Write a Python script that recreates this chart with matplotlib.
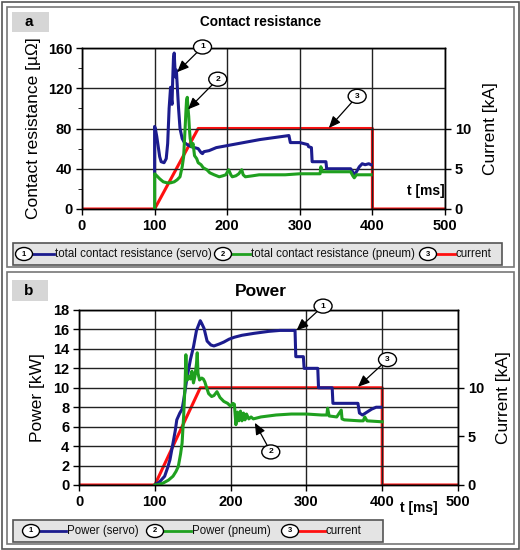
import numpy as np
import matplotlib
matplotlib.use("Agg")
import matplotlib.pyplot as plt
from matplotlib.patches import Rectangle, Ellipse
from matplotlib.lines import Line2D

plt.rcParams['font.family'] = ['Liberation Sans', 'DejaVu Sans']

BLUE = '#1c1c8e'
GREEN = '#1fa01f'
RED = '#ff1010'

# current (same in both panels)
t_cur = [0, 100, 160, 400, 400, 500]
i_cur = [0, 0, 10, 10, 0, 0]

# contact resistance, servo
t_rs = [100, 100, 101, 103, 105, 107, 109, 113, 116, 118, 120, 122, 123, 124, 125, 126, 127, 128,
        129, 130, 131, 133, 135, 138, 141, 145, 150, 155, 160, 164, 166, 168, 175, 185, 200, 215,
        230, 245, 265, 285, 287, 300, 311, 312, 316, 317, 336, 337, 370, 372, 375, 378, 382, 386,
        390, 395, 398]
r_rs = [35, 82, 80, 72, 62, 52, 47, 46, 50, 65, 100, 121, 110, 104, 130, 150, 155, 140, 131, 138,
        125, 100, 80, 70, 66, 64, 62, 61, 60, 56, 55, 57, 58, 61, 63, 65, 67, 69, 71, 73, 66, 66,
        64, 62, 61, 47, 47, 40, 40, 38, 34, 37, 42, 45, 44, 45, 44]

# contact resistance, pneumatic
t_rp = [100, 100, 103, 107, 112, 117, 122, 127, 131, 135, 138, 140, 142, 143, 144, 145, 146, 147,
        148, 149, 151, 153, 155, 158, 160, 164, 167, 172, 176, 182, 189, 194, 198, 202, 205, 207,
        212, 216, 220, 222, 225, 235, 244, 260, 280, 300, 320, 328, 329, 331, 340, 360, 370, 373,
        375, 378, 385, 398]
r_rp = [0, 35, 33, 30, 27, 26, 26, 27, 29, 32, 42, 52, 80, 95, 108, 111, 100, 92, 79, 70, 62, 65,
        53, 50, 46, 44, 41, 39, 36, 34, 32, 33, 34, 39, 34, 32, 33, 35, 39, 34, 32, 33, 34, 34, 34,
        35, 35, 35, 42, 37, 37, 37, 37, 33, 31, 34, 34, 34]

# power, servo
t_ps = [100, 106, 113, 117, 120, 124, 127, 129, 133, 136, 138, 142, 147, 151, 155, 158, 160, 162,
        165, 169, 174, 178, 185, 191, 198, 205, 215, 231, 250, 265, 285, 286, 296, 297, 315, 316,
        334, 335, 368, 370, 374, 380, 386, 392, 398]
p_ps = [0, 0.3, 0.9, 1.8, 2.6, 4.3, 5.6, 6.7, 7.4, 7.8, 8.7, 10.8, 12.9, 14.2, 15.9, 16.5, 16.9,
        16.6, 16.1, 14.8, 14.4, 14.3, 14.5, 14.7, 15.0, 15.2, 15.4, 15.6, 15.8, 15.9, 15.9, 13.2,
        13.2, 12.0, 12.0, 10.0, 10.0, 8.4, 8.4, 7.4, 7.2, 7.5, 7.8, 8.0, 8.0]

# power, pneumatic
t_pp = [100, 105, 111, 118, 124, 128, 131, 134, 136, 138, 140, 141, 142, 143, 145, 147, 149, 151,
        153, 155, 156, 157, 159, 162, 164, 166, 168, 171, 175, 178, 182, 186, 191, 196, 200, 203,
        205, 207, 209, 211, 213, 215, 217, 219, 221, 224, 227, 230, 240, 260, 280, 300, 320, 327,
        328, 330, 340, 346, 347, 350, 370, 375, 377, 380, 400]
p_pp = [0, 0.05, 0.2, 0.5, 0.9, 1.4, 1.9, 3.2, 4.3, 7.0, 10.5, 13.4, 10.8, 10.8, 11.2, 10.9, 11.7,
        10.5, 11.2, 12.5, 13.6, 11.5, 10.8, 11.0, 10.9, 10.6, 10.1, 9.4, 9.1, 9.2, 9.6, 9.0, 8.6,
        8.4, 8.1, 8.4, 8.3, 6.2, 7.5, 6.6, 7.6, 6.6, 7.4, 6.7, 7.3, 6.8, 7.0, 6.8, 7.0, 7.2, 7.3,
        7.3, 7.2, 7.2, 7.9, 7.1, 7.0, 7.7, 6.8, 6.7, 6.6, 6.6, 7.0, 6.6, 6.5]

W, H = 520, 550
fig = plt.figure(figsize=(W / 100, H / 100), dpi=100)


def fx(px):
    return px / W


def fy(py):
    return 1 - py / H


def box(x0, y0, x1, y1, **kw):
    fig.patches.append(Rectangle((fx(x0), fy(y1)), fx(x1) - fx(x0), fy(y0) - fy(y1),
                                 transform=fig.transFigure, **kw))


def numbered_circle(xf, yf, num, w=18, h=14, size=6):
    # xf, yf in figure fractions
    fig.add_artist(Ellipse((xf, yf), w / W, h / H, transform=fig.transFigure,
                           fc='white', ec='black', lw=1.0, zorder=10))
    fig.text(xf, yf, num, fontsize=size, fontweight='bold', ha='center', va='center', zorder=11)


# outer and panel borders
box(1.5, 1.5, 518.5, 548.5, fill=False, ec='#555555', lw=1.2)
box(7, 7, 514, 267, fill=False, ec='#777777', lw=1.2)
box(7, 272, 514, 544, fill=False, ec='#777777', lw=1.2)
# panel labels
box(12, 12, 49, 32, fc='#d6d6d6', ec='none')
box(12, 280, 48, 301, fc='#d6d6d6', ec='none')
fig.text(fx(29), fy(22), 'a', fontsize=11, fontweight='bold', ha='center', va='center')
fig.text(fx(29), fy(291), 'b', fontsize=11, fontweight='bold', ha='center', va='center')
# panel titles
fig.text(fx(261), fy(22), 'Contact resistance', fontsize=9.8, fontweight='bold',
         ha='center', va='center')
fig.text(fx(261), fy(292), 'Power', fontsize=12.5, fontweight='bold', ha='center', va='center')


def style_axes(ax, ax2):
    for a in (ax, ax2):
        for s in a.spines.values():
            s.set_color('black')
            s.set_linewidth(1.0)
        a.tick_params(labelsize=10.5, width=1, length=4, direction='out', pad=3)
        for lbl in a.get_xticklabels() + a.get_yticklabels():
            lbl.set_fontweight('bold')
    ax.grid(True, color='#222222', linewidth=1.0)
    ax.set_axisbelow(True)
    ax.set_xlim(0, 500)
    ax.set_xticks([0, 100, 200, 300, 400, 500])
    ax2.set_yticks([0, 5, 10])
    ax.set_zorder(ax2.get_zorder() + 1)
    ax.patch.set_visible(False)


def bubble(ax, num, xy, xytext):
    ax.annotate('', xy=xy, xytext=xytext, annotation_clip=False,
                arrowprops=dict(arrowstyle='-|>,head_length=0.7,head_width=0.3', color='black',
                                lw=0.9, shrinkA=4, shrinkB=0))
    px, py = ax.transData.transform(xytext)
    numbered_circle(px / W, py / H, num)


# ---- panel a ----
ax = fig.add_axes([fx(82), fy(209), fx(445) - fx(82), fy(48) - fy(209)])
ax2 = ax.twinx()
ax2.plot(t_cur, i_cur, color=RED, lw=2.2)
ax2.set_ylim(0, 20)
ax.plot(t_rs, r_rs, color=BLUE, lw=2.2)
ax.plot(t_rp, r_rp, color=GREEN, lw=2.2)
ax.set_ylim(0, 160)
ax.set_yticks([0, 40, 80, 120, 160])
ax.set_yticks(np.arange(0, 161, 20), minor=True)
ax.tick_params(axis='y', which='minor', length=3)
style_axes(ax, ax2)
ax.set_ylabel('Contact resistance [µΩ]', fontsize=12.5, labelpad=5)
ax2.set_ylabel('Current [kA]', fontsize=12.5, labelpad=9)
ax.text(474, 11, 't [ms]', fontsize=10, fontweight='bold', ha='center', va='bottom')
bubble(ax, '1', (131, 136), (166, 161))
bubble(ax, '2', (146, 99), (187, 129))
bubble(ax, '3', (340, 80.5), (379, 112))

# ---- panel b ----
bx = fig.add_axes([fx(79), fy(485), fx(458) - fx(79), fy(310) - fy(485)])
bx2 = bx.twinx()
bx2.plot(t_cur, i_cur, color=RED, lw=2.2)
bx2.set_ylim(0, 18)
bx.plot(t_ps, p_ps, color=BLUE, lw=2.2)
bx.plot(t_pp, p_pp, color=GREEN, lw=2.2)
bx.set_ylim(0, 18)
bx.set_yticks(np.arange(0, 19, 2))
style_axes(bx, bx2)
bx.set_ylabel('Power [kW]', fontsize=12.5, labelpad=6)
bx2.set_ylabel('Current [kA]', fontsize=12.5, labelpad=9)
fig.text(fx(419), fy(508), 't [ms]', fontsize=10, fontweight='bold', ha='center', va='center')
bubble(bx, '1', (287, 15.9), (322, 18.4))
bubble(bx, '2', (232, 6.4), (253, 3.4))
bubble(bx, '3', (368, 10.1), (407, 12.9))


# ---- legends ----
def legend_row(y, x0, x1, y0, y1, entries):
    box(x0, y0, x1, y1, fc='#e4e4e4', ec='#555555', lw=1.2)
    for num, cx, lx0, lx1, color, label in entries:
        numbered_circle(fx(cx), fy(y), num, w=17, h=13, size=5.5)
        fig.lines.append(Line2D([fx(lx0), fx(lx1)], [fy(y), fy(y)], color=color, lw=2,
                                transform=fig.transFigure))
        fig.text(fx(lx1 + 1), fy(y), label, fontsize=8.3, ha='left', va='center', color='#111111')


legend_row(254, 13, 502, 243, 265, [
    ('1', 24, 32, 54, BLUE, 'total contact resistance (servo)'),
    ('2', 223, 231, 250, GREEN, 'total contact resistance (pneum)'),
    ('3', 428, 436, 455, RED, 'current'),
])
legend_row(531, 13, 383, 520, 542, [
    ('1', 31, 39, 66, BLUE, 'Power (servo)'),
    ('2', 155, 163, 191, GREEN, 'Power (pneum)'),
    ('3', 290, 298, 325, RED, 'current'),
])

fig.savefig('out.png', dpi=100)
